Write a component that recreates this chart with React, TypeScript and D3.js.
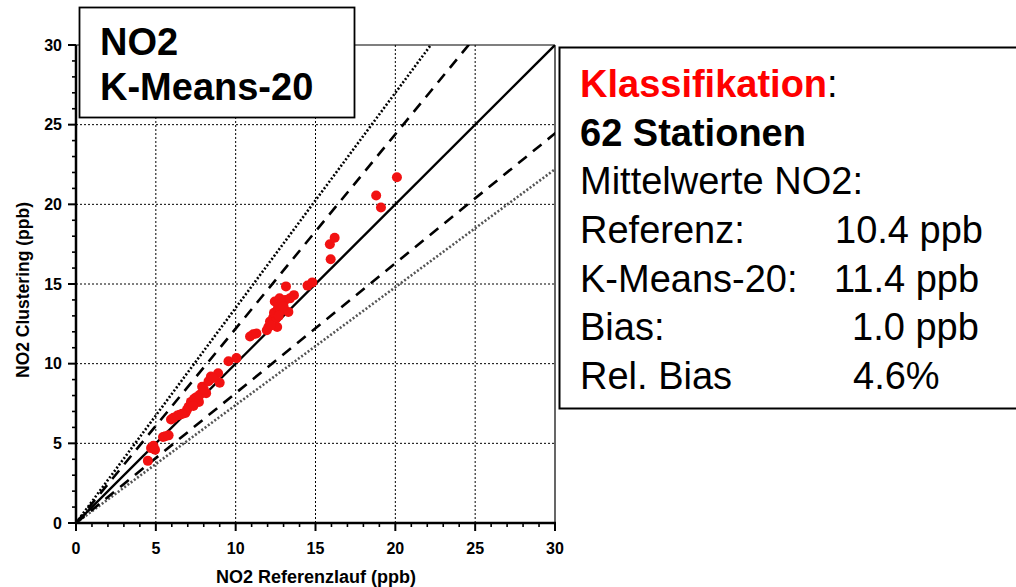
import React from "react";
import * as d3 from "d3";

// ---- data ----
const refValues: number[] = [
  4.5, 4.7, 4.85, 4.95, 5.45, 5.6, 5.8, 5.95, 6.1, 6.35, 6.5, 6.85, 6.95, 7.05, 7.2, 7.4,
  7.55, 7.7, 7.75, 7.9, 8.15, 8.3, 8.45, 8.9, 9.0, 8.6, 9.55, 10.05, 10.9, 11.1, 11.95, 12.05,
  12.15, 12.35, 12.55, 12.4, 12.65, 12.8, 13.3, 12.45, 12.75, 13.1, 13.65, 13.15, 12.9, 12.6,
  14.5, 14.8, 15.95, 15.9, 16.2, 18.8, 19.1, 20.1, 13.0, 12.7, 7.35, 6.65, 8.0, 12.2, 13.4, 11.3,
];
const clusterValues: number[] = [
  3.9, 4.7, 4.85, 4.6, 5.4, 5.45, 5.5, 6.5, 6.6, 6.75, 6.8, 6.9, 7.1, 7.3, 7.6, 7.8,
  7.9, 7.6, 8.05, 8.55, 8.15, 8.9, 9.2, 9.4, 8.8, 9.1, 10.15, 10.35, 11.7, 11.85, 12.1, 12.3,
  12.65, 12.9, 12.85, 13.2, 13.5, 13.3, 13.25, 13.9, 14.1, 14.0, 14.3, 14.85, 13.8, 12.3,
  14.9, 15.1, 16.55, 17.5, 17.9, 20.55, 19.8, 21.7, 13.6, 13.0, 7.35, 6.85, 8.4, 12.4, 14.1, 11.9,
];
const axisTicks: number[] = [0, 5, 10, 15, 20, 25, 30];
const minorTicks: number[] = d3.range(0, 31, 1);
const ratioSolid: number[] = [1];
const ratioDashed: number[] = [1.22, 0.815];
const ratioDottedUpper: number[] = [1.35];
const ratioDottedLower: number[] = [0.74];
const titleLines: string[] = ["NO2", "K-Means-20"];
const xTitle = "NO2 Referenzlauf (ppb)";
const yTitle = "NO2 Clustering (ppb)";
const infoHead = "Klassifikation";
const infoStations = "62 Stationen";
const infoMeans = "Mittelwerte NO2:";
const infoLabels: string[] = ["Referenz:", "K-Means-20:", "Bias:", "Rel. Bias"];
const infoValues: string[] = ["10.4 ppb", "11.4 ppb", "1.0 ppb", "4.6%"];

const FONT = "'Liberation Sans', Arial, Helvetica, sans-serif";

export default function App() {
  const W = 1016, H = 587;
  const x = d3.scaleLinear().domain([0, 30]).range([76, 555]);
  const y = d3.scaleLinear().domain([0, 30]).range([523, 45]);
  const line = d3.line<number[]>().x((d) => x(d[0])).y((d) => y(d[1]));
  const ratioPath = (k: number) => line([[0, 0], [40, 40 * k]]) as string;
  const pts = refValues.map((v, i) => [v, clusterValues[i]]);
  const valueX = [835, 834, 852, 853];

  return (
    <svg width={W} height={H} style={{ position: "absolute", left: 0, top: 0, background: "#fff" }}>
      <defs>
        <clipPath id="plotClip">
          <rect x={x(0)} y={y(30)} width={x(30) - x(0)} height={y(0) - y(30)} />
        </clipPath>
      </defs>
      <rect x={0} y={0} width={W} height={H} fill="#fff" />
      {/* grid */}
      {axisTicks.slice(1, -1).map((t) => (
        <g key={"g" + t}>
          <line x1={x(t)} x2={x(t)} y1={y(0)} y2={y(30)} stroke="#000" strokeWidth={1} strokeDasharray="2,2" />
          <line x1={x(0)} x2={x(30)} y1={y(t)} y2={y(t)} stroke="#000" strokeWidth={1} strokeDasharray="2,2" />
        </g>
      ))}
      {/* border */}
      <line x1={x(0)} x2={x(30)} y1={y(30)} y2={y(30)} stroke="#000" strokeWidth={1.2} />
      <line x1={x(30)} x2={x(30)} y1={y(30)} y2={y(0)} stroke="#000" strokeWidth={1.2} />
      {/* ratio lines */}
      <g clipPath="url(#plotClip)" fill="none">
        {ratioDottedUpper.map((k) => (
          <path key={"du" + k} d={ratioPath(k)} stroke="#000" strokeWidth={2.6} strokeDasharray="2,2" />
        ))}
        {ratioDottedLower.map((k) => (
          <path key={"dl" + k} d={ratioPath(k)} stroke="#555" strokeWidth={2.6} strokeDasharray="2,2" />
        ))}
        {ratioDashed.map((k) => (
          <path key={"da" + k} d={ratioPath(k)} stroke="#000" strokeWidth={2.6} strokeDasharray="11,8" />
        ))}
        {ratioSolid.map((k) => (
          <path key={"s" + k} d={ratioPath(k)} stroke="#000" strokeWidth={2.4} />
        ))}
      </g>
      {/* points */}
      <g>
        {pts.map((p, i) => (
          <circle key={i} cx={x(p[0])} cy={y(p[1])} r={5} fill="#f21212" />
        ))}
      </g>
      {/* axes */}
      <line x1={x(0)} x2={x(30) + 1} y1={y(0)} y2={y(0)} stroke="#000" strokeWidth={2.5} />
      <line x1={x(0)} x2={x(0)} y1={y(0) + 1} y2={y(30)} stroke="#000" strokeWidth={2.5} />
      {minorTicks.map((t) => {
        const major = t % 5 === 0;
        const len = major ? 8 : 4;
        return (
          <g key={"t" + t}>
            <line x1={x(t)} x2={x(t)} y1={y(0)} y2={y(0) + len} stroke="#000" strokeWidth={major ? 2 : 1.6} />
            <line x1={x(0) - len} x2={x(0)} y1={y(t)} y2={y(t)} stroke="#000" strokeWidth={major ? 2 : 1.6} />
          </g>
        );
      })}
      {axisTicks.map((t) => (
        <g key={"l" + t} fontFamily={FONT} fontWeight="bold" fontSize={16}>
          <text x={x(t)} y={554} textAnchor="middle">{t}</text>
          <text x={62} y={y(t) + 5.5} textAnchor="end">{t}</text>
        </g>
      ))}
      <text x={316} y={583} textAnchor="middle" fontFamily={FONT} fontWeight="bold" fontSize={18}>{xTitle}</text>
      <text transform="translate(29,290) rotate(-90)" textAnchor="middle" fontFamily={FONT} fontWeight="bold" fontSize={17.5}>{yTitle}</text>
      {/* title box */}
      <rect x={79.5} y={7.5} width={275} height={110} fill="#fff" stroke="#000" strokeWidth={1.8} />
      {titleLines.map((s, i) => (
        <text key={s} x={100} y={55 + i * 45} fontFamily={FONT} fontWeight="bold" fontSize={38}>{s}</text>
      ))}
      {/* info box */}
      <rect x={559.5} y={47.5} width={460} height={361} fill="#fff" stroke="#000" strokeWidth={2} />
      <g fontFamily={FONT} fontSize={38}>
        <text x={580} y={97}>
          <tspan fill="#ff0000" fontWeight="bold">{infoHead}</tspan>
          <tspan fill="#000">:</tspan>
        </text>
        <text x={580} y={146} fontWeight="bold">{infoStations}</text>
        <text x={580} y={194}>{infoMeans}</text>
        {infoLabels.map((s, i) => (
          <g key={s}>
            <text x={580} y={243 + i * 48.5}>{s}</text>
            <text x={valueX[i]} y={243 + i * 48.5}>{infoValues[i]}</text>
          </g>
        ))}
      </g>
    </svg>
  );
}
